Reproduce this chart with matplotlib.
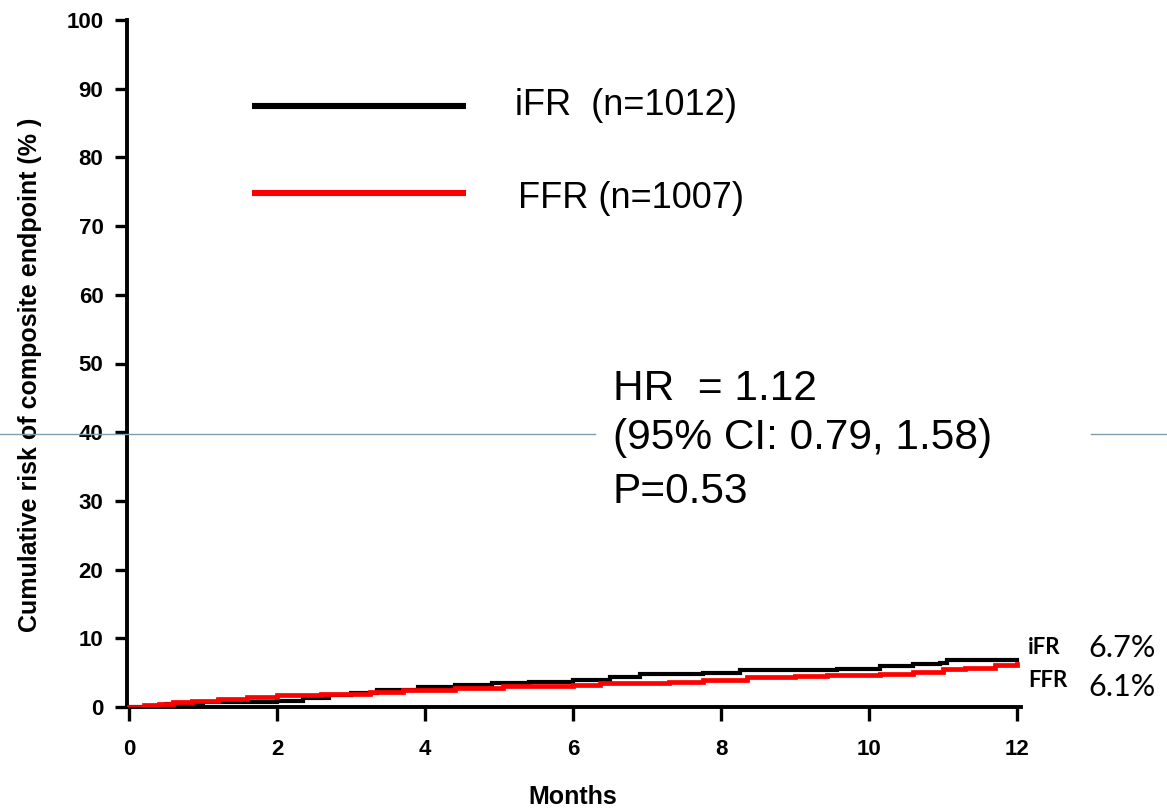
import matplotlib
matplotlib.use("Agg")
import matplotlib.pyplot as plt
from matplotlib.lines import Line2D

# ---- data ----
ifr_months = [0, 0.25, 0.5, 0.75, 1.0, 1.5, 2.0, 2.35, 2.7, 3.0, 3.35, 3.9, 4.4, 4.9,
              5.4, 6.0, 6.5, 6.9, 7.4, 7.76, 8.26, 8.8, 9.57, 10.15, 10.6, 10.96, 11.05, 12.0]
ifr_risk = [0, 0.2, 0.4, 0.6, 0.7, 0.8, 0.9, 1.3, 1.7, 2.0, 2.5, 2.9, 3.2, 3.5,
            3.7, 3.9, 4.4, 4.75, 4.85, 5.0, 5.4, 5.45, 5.5, 6.0, 6.2, 6.45, 6.9, 6.9]
ffr_months = [0, 0.2, 0.4, 0.6, 0.85, 1.2, 1.6, 2.0, 2.6, 3.26, 3.7, 4.4, 5.05, 5.5,
              6.0, 6.37, 7.3, 7.76, 8.35, 9.0, 9.43, 10.15, 10.6, 11.0, 11.3, 11.7, 12.0]
ffr_risk = [0, 0.3, 0.5, 0.7, 0.9, 1.2, 1.5, 1.7, 1.9, 2.2, 2.5, 2.8, 3.0, 3.1,
            3.2, 3.45, 3.7, 4.0, 4.3, 4.45, 4.65, 4.75, 5.1, 5.5, 5.7, 6.1, 6.25]

x_ticks = [0, 2, 4, 6, 8, 10, 12]
y_ticks = [0, 10, 20, 30, 40, 50, 60, 70, 80, 90, 100]
legend_labels = ["iFR  (n=1012)", "FFR (n=1007)"]
end_labels = ["iFR", "FFR"]
end_values = ["6.7%", "6.1%"]
stats_lines = ["HR  = 1.12", "(95% CI: 0.79, 1.58)", "P=0.53"]

W, H = 1167, 811
fig = plt.figure(figsize=(W / 100, H / 100), dpi=100)
fig.patch.set_facecolor("white")

def fx(px):
    return px / W

def fy(py):
    return 1 - py / H

ax_l, ax_r, ax_t, ax_b = 127, 1021, 20, 707
ax = fig.add_axes([fx(ax_l), fy(ax_b), (ax_r - ax_l) / W, (ax_b - ax_t) / H])
ax.set_xlim(-2 / 74, 12 + 4 / 74)
ax.set_ylim(0, 100)

ax.plot(ifr_months, ifr_risk, color="black", lw=3.0, drawstyle="steps-post",
        solid_joinstyle="miter", zorder=3)
ax.plot(ffr_months, ffr_risk, color="#ff0000", lw=3.4, drawstyle="steps-post",
        solid_joinstyle="miter", zorder=4)

for s in ["top", "right"]:
    ax.spines[s].set_visible(False)
for s in ["left", "bottom"]:
    ax.spines[s].set_linewidth(2.8)
ax.set_xticks(x_ticks)
ax.set_yticks(y_ticks)
tick_font = dict(family="Liberation Sans", weight="bold", size=16)
ax.set_xticklabels([str(v) for v in x_ticks], **tick_font)
ax.set_yticklabels([str(v) for v in y_ticks], **tick_font)
ax.tick_params(axis="x", length=10, width=2.4, pad=13, direction="out")
ax.tick_params(axis="y", length=9, width=2.4, pad=8, direction="out")
ax.set_xlabel("Months", family="Liberation Sans", weight="bold", size=18)
ax.xaxis.set_label_coords(0.5 * (fx(1017) + fx(129)), fy(797), transform=fig.transFigure)
ax.xaxis.label.set_va("center")
ax.set_ylabel("Cumulative risk of composite endpoint (% )", family="Liberation Sans",
              weight="bold", size=18)
ax.yaxis.set_label_coords(fx(30), fy(375), transform=fig.transFigure)
ax.yaxis.label.set_va("center")

# legend drawn manually
leg_font = dict(family="Liberation Sans", size=26)
fig.add_artist(Line2D([fx(252), fx(466)], [fy(106), fy(106)], color="black", lw=4.4,
                      solid_capstyle="butt"))
fig.add_artist(Line2D([fx(252), fx(466)], [fy(193), fy(193)], color="#ff0000", lw=4.4,
                      solid_capstyle="butt"))
fig.text(fx(515), fy(115), legend_labels[0], ha="left", va="baseline", **leg_font)
fig.text(fx(518), fy(208), legend_labels[1], ha="left", va="baseline", **leg_font)

# stats text
st_font = dict(family="Liberation Sans", size=30.5)
for txt, base in zip(stats_lines, [400, 449, 503]):
    fig.text(fx(613), fy(base), txt, ha="left", va="baseline", **st_font)

# end labels
fig.text(fx(1028), fy(654), end_labels[0], ha="left", va="baseline",
         family="Lato", weight="bold", size=16)
fig.text(fx(1028), fy(687), end_labels[1], ha="left", va="baseline",
         family="Lato", weight="bold", size=16)
fig.text(fx(1088), fy(657), end_values[0], ha="left", va="baseline", family="Lato", size=22)
fig.text(fx(1088), fy(696), end_values[1], ha="left", va="baseline", family="Lato", size=22)

# thin slide divider line
div_col = "#7f9fb0"
fig.add_artist(Line2D([0, fx(595)], [fy(434), fy(434)], color=div_col, lw=1.0, zorder=10))
fig.add_artist(Line2D([fx(1091), 1], [fy(434), fy(434)], color=div_col, lw=1.0, zorder=10))

fig.savefig("out.png", dpi=100, facecolor="white")
